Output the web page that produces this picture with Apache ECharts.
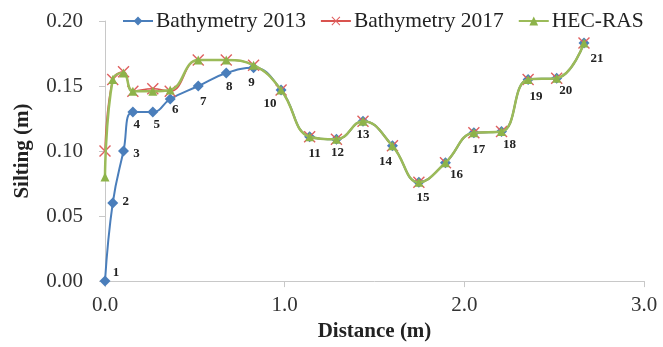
<!DOCTYPE html>
<html>
<head>
<meta charset="utf-8">
<script src="https://cdn.jsdelivr.net/npm/echarts@6/dist/echarts.min.js"></script>
<style>html,body{margin:0;padding:0;background:#fff;}#c{width:663px;height:347px;}</style>
</head>
<body>
<div id="c"></div>
<script>
const distance = [0, 0.043, 0.103, 0.155, 0.266, 0.363, 0.519, 0.675, 0.827, 0.98, 1.139, 1.288, 1.436, 1.60, 1.747, 1.895, 2.053, 2.207, 2.355, 2.514, 2.666];
const bathy2013 = [0, 0.06, 0.10, 0.13, 0.13, 0.14, 0.15, 0.16, 0.164, 0.147, 0.111, 0.109, 0.123, 0.104, 0.076, 0.091, 0.114, 0.115, 0.155, 0.156, 0.183];
const bathy2017 = [0.10, 0.155, 0.161, 0.146, 0.148, 0.146, 0.170, 0.170, 0.166, 0.147, 0.111, 0.109, 0.123, 0.104, 0.076, 0.091, 0.114, 0.115, 0.155, 0.156, 0.183];
const hecRas = [0.08, 0.155, 0.160, 0.146, 0.146, 0.147, 0.170, 0.170, 0.166, 0.147, 0.111, 0.109, 0.123, 0.104, 0.076, 0.091, 0.114, 0.115, 0.155, 0.156, 0.183];
const pointLabels = ['1','2','3','4','5','6','7','8','9','10','11','12','13','14','15','16','17','18','19','20','21'];
const seriesNames = ['Bathymetry 2013', 'Bathymetry 2017', 'HEC-RAS'];
const xTicks = [0, 1, 2, 3];
const yTicks = [0, 0.05, 0.10, 0.15, 0.20];

// label placement (layout only)
const labelOffsets = [[11,-8],[13,-1],[13,3],[4,13],[4,13],[5,11],[5,16],[3,14],[-2,15],[-11,14],[5,17],[1,13],[0,14],[-7,16],[4,15],[11,12],[5,17],[8,13],[8,17],[9,12],[13,16]];

const FONT = 'Liberation Serif';
const xMark = 'path://M0,1L1,0L6,5L11,0L12,1L7,6L12,11L11,12L6,7L1,12L0,11L5,6Z';

const chart = echarts.init(document.getElementById('c'), null, {renderer: 'canvas'});
const mk = (arr) => arr.map((v, i) => [distance[i], v]);

chart.setOption({
  animation: false,
  backgroundColor: '#fff',
  textStyle: {fontFamily: FONT},
  grid: {left: 105, right: 19, top: 21, bottom: 64, containLabel: false},
  legend: {
    top: 5, left: 117, itemWidth: 30, itemHeight: 11, itemGap: 14,
    textStyle: {fontFamily: FONT, fontSize: 21.5, color: '#222', padding: [0,0,0,-2]},
    data: seriesNames
  },
  xAxis: {
    type: 'value', min: 0, max: 3, interval: 1,
    name: 'Distance (m)', nameLocation: 'middle', nameGap: 38,
    nameTextStyle: {fontFamily: FONT, fontSize: 21, fontWeight: 'bold', color: '#222'},
    axisLine: {show: true, lineStyle: {color: '#c8c8c8', width: 1}},
    axisTick: {show: true, inside: false, length: 6, lineStyle: {color: '#c8c8c8'}},
    splitLine: {show: false},
    axisLabel: {margin: 14, fontFamily: FONT, fontSize: 21, color: '#333', formatter: v => v.toFixed(1)}
  },
  yAxis: {
    type: 'value', min: 0, max: 0.2, interval: 0.05,
    name: 'Silting (m)', nameLocation: 'middle', nameGap: 72, nameRotate: 90,
    nameTextStyle: {fontFamily: FONT, fontSize: 21, fontWeight: 'bold', color: '#222'},
    axisLine: {show: true, lineStyle: {color: '#c8c8c8', width: 1}},
    axisTick: {show: true, inside: false, length: 6, lineStyle: {color: '#c8c8c8'}},
    splitLine: {show: false},
    axisLabel: {margin: 22, fontFamily: FONT, fontSize: 21, color: '#333', formatter: v => v.toFixed(2)}
  },
  series: [
    {
      name: seriesNames[0], type: 'line', smooth: 0.45,
      data: mk(bathy2013).map((p, i) => ({
        value: p,
        label: {show: true, position: 'inside', offset: labelOffsets[i], formatter: pointLabels[i]}
      })),
      symbol: 'diamond', symbolSize: 11,
      lineStyle: {color: '#4A7EBB', width: 2},
      itemStyle: {color: '#4A7EBB'},
      label: {fontFamily: FONT, fontSize: 13, fontWeight: 'bold', color: '#222', align: 'center', verticalAlign: 'middle'},
      z: 2
    },
    {
      name: seriesNames[1], type: 'line', smooth: 0.45,
      data: mk(bathy2017),
      symbol: xMark, symbolSize: 12,
      lineStyle: {color: '#D9534F', width: 1.5},
      itemStyle: {color: '#E06060'},
      z: 3
    },
    {
      name: seriesNames[2], type: 'line', smooth: 0.45,
      data: mk(hecRas),
      symbol: 'triangle', symbolSize: 9,
      lineStyle: {color: '#9BBB59', width: 2.5},
      itemStyle: {color: '#8DB34A'},
      z: 4
    }
  ]
});
</script>
</body>
</html>
